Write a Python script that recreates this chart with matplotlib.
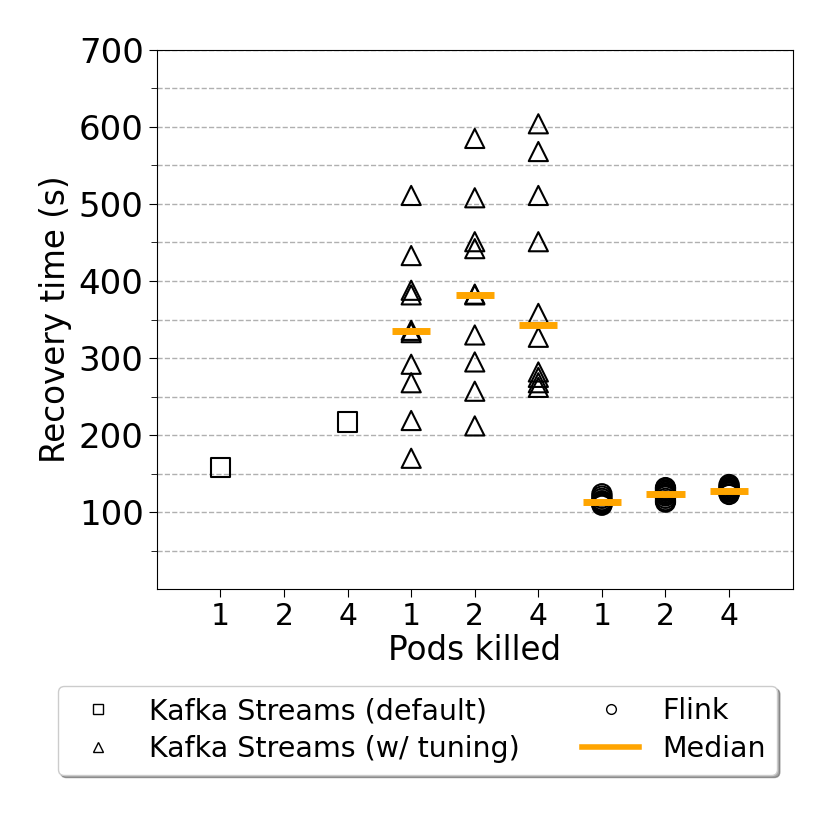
import numpy as np
import matplotlib
matplotlib.use('Agg')
from matplotlib import pyplot as plt
from matplotlib.lines import Line2D

pods_labels = ['1', '2', '4']

# Kafka Streams (default): one run per setting, pods=2 missing
ks_default_x = [1, 3]
ks_default = [158, 217]

# Kafka Streams (w/ tuning), recovery times (s)
ks_tuned = [
    [511, 433, 388, 382, 336, 333, 292, 268, 219, 170],
    [585, 508, 451, 442, 383, 382, 330, 295, 257, 212],
    [604, 568, 511, 451, 358, 327, 282, 275, 268, 262],
]

# Flink recovery times (s)
flink = [
    [109, 110, 111, 112, 113, 113, 115, 118, 121, 124],
    [113, 115, 118, 121, 123, 125, 127, 129, 131, 132],
    [123, 124, 126, 127, 128, 128, 130, 132, 134, 136],
]

fig = plt.figure(figsize=(8.3, 8.3), dpi=100)
ax = fig.add_axes([0.189, 0.29, 0.766, 0.65])

ms = 190
ax.scatter(ks_default_x, ks_default, marker='s', s=ms, facecolors='none',
           edgecolors='black', linewidths=1.5, zorder=3)

for i, vals in enumerate(ks_tuned):
    x = 4 + i
    ax.scatter([x] * len(vals), vals, marker='^', s=ms, facecolors='none',
               edgecolors='black', linewidths=1.5, zorder=3)
    ax.hlines(np.median(vals), x - 0.3, x + 0.3, colors='orange', linewidth=5, zorder=4)

for i, vals in enumerate(flink):
    x = 7 + i
    ax.scatter([x] * len(vals), vals, marker='o', s=ms, facecolors='none',
               edgecolors='black', linewidths=1.5, zorder=3)
    ax.hlines(np.median(vals), x - 0.3, x + 0.3, colors='orange', linewidth=5, zorder=4)

ax.set_xlim(0, 10)
ax.set_ylim(0, 700)
ax.set_xticks(range(1, 10))
ax.set_xticklabels(pods_labels * 3)
ax.set_yticks(range(100, 701, 100))
ax.set_yticks(range(50, 700, 100), minor=True)
ax.tick_params(axis='x', which='major', labelsize=21.5, length=6)
ax.tick_params(axis='y', which='major', labelsize=24.5, length=6)
ax.tick_params(axis='y', which='minor', length=4)
ax.grid(axis='y', which='both', linestyle='--', color='#b0b0b0', linewidth=1)
ax.set_axisbelow(True)
ax.set_xlabel('Pods killed', fontsize=23.5, labelpad=2)
ax.set_ylabel('Recovery time (s)', fontsize=23.5, labelpad=5)

handles = [
    Line2D([], [], marker='s', linestyle='none', markerfacecolor='none',
           markeredgecolor='black', markersize=7),
    Line2D([], [], marker='^', linestyle='none', markerfacecolor='none',
           markeredgecolor='black', markersize=7),
    Line2D([], [], marker='o', linestyle='none', markerfacecolor='none',
           markeredgecolor='black', markersize=7),
    Line2D([], [], color='orange', linewidth=4),
]
labels = ['Kafka Streams (default)', 'Kafka Streams (w/ tuning)', 'Flink', 'Median']
fig.legend(handles, labels, ncol=2, loc='center', bbox_to_anchor=(0.503, 0.12),
           fontsize=20.5, shadow=True, fancybox=True, columnspacing=2.2,
           labelspacing=0.35)

fig.savefig('out.png', dpi=100)
